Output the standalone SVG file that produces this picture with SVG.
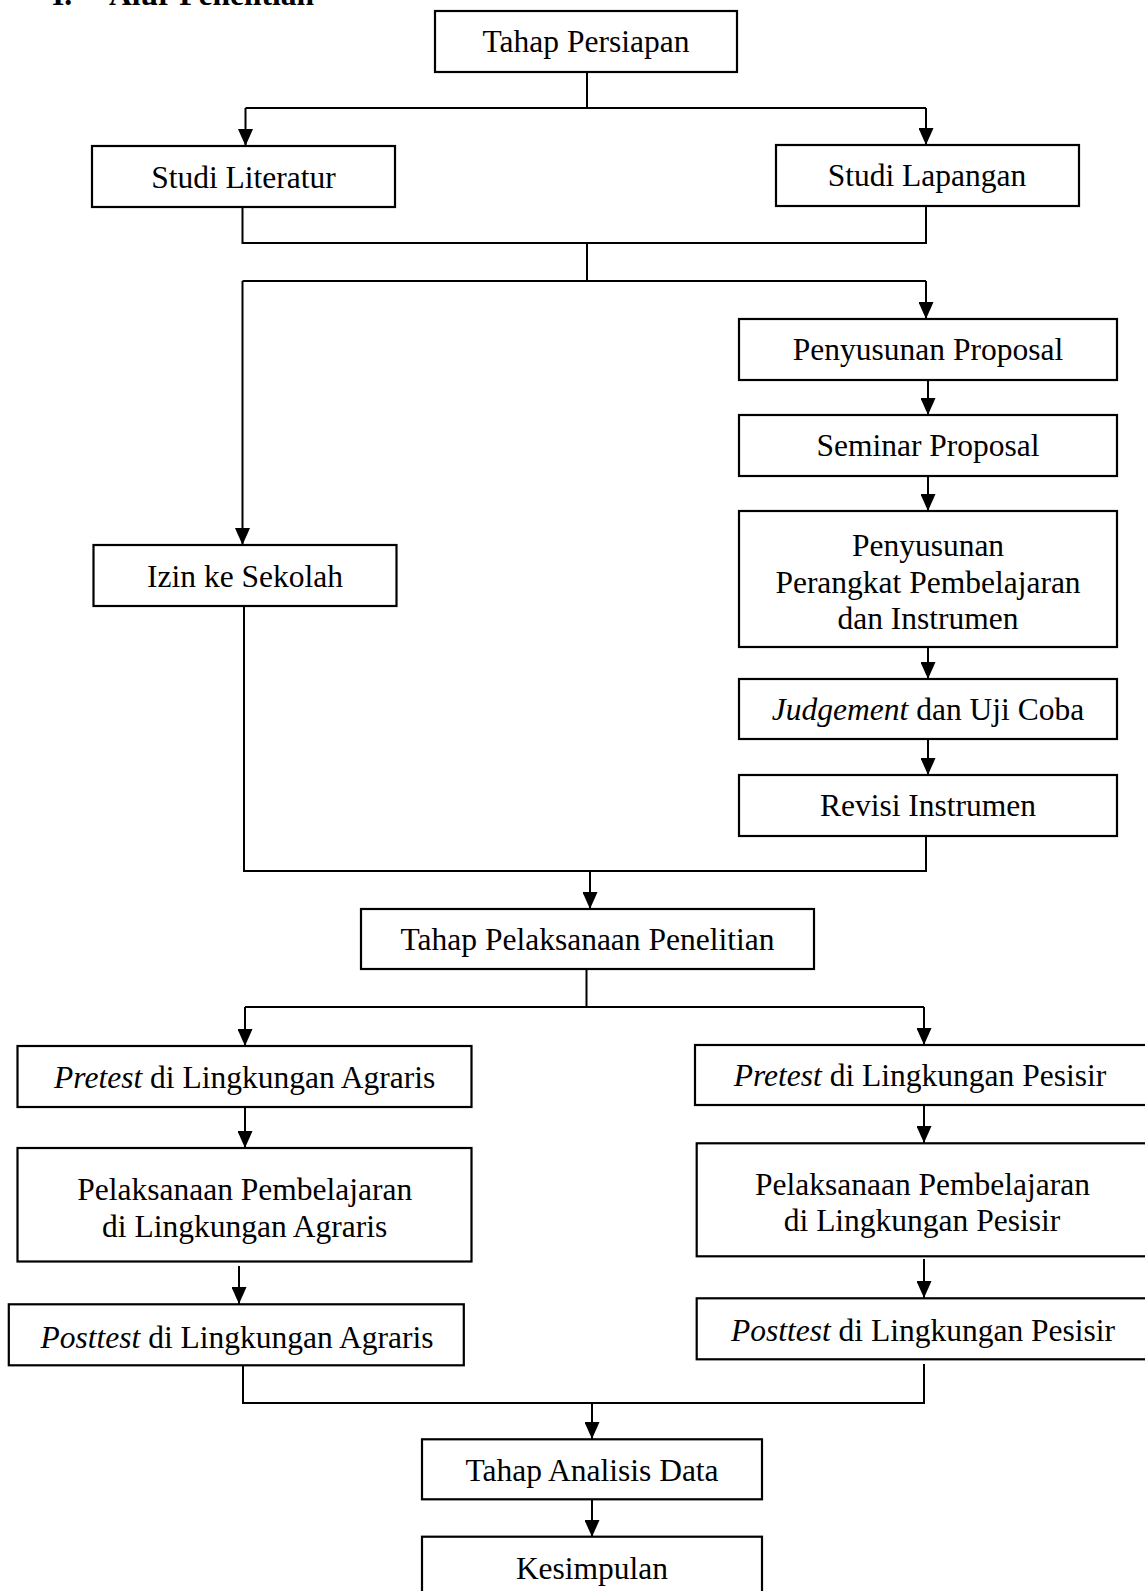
<svg xmlns="http://www.w3.org/2000/svg" width="1145" height="1591" viewBox="0 0 1145 1591">
<style>
  .box { fill: #ffffff; stroke: #000000; stroke-width: 2.2; }
  .t { font-family: "Liberation Serif", "Times New Roman", serif; font-size: 31.5px; fill: #000000; text-anchor: middle; }
  .i { font-style: italic; }
  .title { font-family: "Liberation Serif", "Times New Roman", serif; font-size: 31.5px; font-weight: bold; fill: #000000; }
  .c { fill: none; stroke: #000000; stroke-width: 2; }
  .a { fill: none; stroke: #000000; stroke-width: 2; marker-end: url(#arrow); }
</style>
<defs>
  <marker id="arrow" markerUnits="userSpaceOnUse" markerWidth="17" markerHeight="15" refX="17" refY="7.5" orient="auto">
    <path d="M0,0 L17,7.5 L0,15 z" fill="#000000"/>
  </marker>
</defs>
<rect width="1145" height="1591" fill="#ffffff"/>

<g id="title">
  <text class="title" x="52" y="5">I.</text>
  <text class="title" x="109" y="5">Alur Penelitian</text>
</g>

<g id="connectors">
  <path class="c" d="M587,72 V108 M245.5,108 H926"/>
  <path class="a" d="M245.5,108 V146"/>
  <path class="a" d="M926,108 V145"/>
  <path class="c" d="M242.5,207 V243 H926 V206 M587,243 V281 M242.5,281 H926"/>
  <path class="a" d="M242.5,281 V545"/>
  <path class="a" d="M926,281 V319"/>
  <path class="a" d="M928,380 V415"/>
  <path class="a" d="M928,476 V511"/>
  <path class="a" d="M928,647 V679"/>
  <path class="a" d="M928,739 V775"/>
  <path class="c" d="M244,599 V871 H926 V836"/>
  <path class="a" d="M590,871 V909"/>
  <path class="c" d="M586.5,969 V1007 M245,1007 H924"/>
  <path class="a" d="M245,1007 V1046"/>
  <path class="a" d="M924,1007 V1045"/>
  <path class="a" d="M245,1107 V1148"/>
  <path class="a" d="M924,1106 V1143"/>
  <path class="a" d="M239,1266 V1304"/>
  <path class="a" d="M924,1259 V1298"/>
  <path class="c" d="M243,1365 V1403 H924 V1364"/>
  <path class="a" d="M592,1403 V1439"/>
  <path class="a" d="M592,1500 V1537"/>
</g>

<g id="tahap-persiapan">
  <rect class="box" x="435" y="11" width="302" height="61"/>
  <text class="t" x="586" y="52">Tahap Persiapan</text>
</g>
<g id="studi-literatur">
  <rect class="box" x="92" y="146" width="303" height="61"/>
  <text class="t" x="243.5" y="187.5">Studi Literatur</text>
</g>
<g id="studi-lapangan">
  <rect class="box" x="776" y="145" width="303" height="61"/>
  <text class="t" x="927" y="185.5">Studi Lapangan</text>
</g>
<g id="penyusunan-proposal">
  <rect class="box" x="739" y="319" width="378" height="61"/>
  <text class="t" x="928" y="360">Penyusunan Proposal</text>
</g>
<g id="seminar-proposal">
  <rect class="box" x="739" y="415" width="378" height="61"/>
  <text class="t" x="928" y="456">Seminar Proposal</text>
</g>
<g id="penyusunan-perangkat">
  <rect class="box" x="739" y="511" width="378" height="136"/>
  <text class="t" x="928" y="556">Penyusunan</text>
  <text class="t" x="928" y="592.5">Perangkat Pembelajaran</text>
  <text class="t" x="928" y="629">dan Instrumen</text>
</g>
<g id="judgement">
  <rect class="box" x="739" y="679" width="378" height="60"/>
  <text class="t" x="928" y="720"><tspan class="i">Judgement</tspan> dan Uji Coba</text>
</g>
<g id="revisi-instrumen">
  <rect class="box" x="739" y="775" width="378" height="61"/>
  <text class="t" x="928" y="816">Revisi Instrumen</text>
</g>
<g id="izin-sekolah">
  <rect class="box" x="93.5" y="545" width="303" height="61"/>
  <text class="t" x="245" y="587">Izin ke Sekolah</text>
</g>
<g id="tahap-pelaksanaan">
  <rect class="box" x="361" y="909" width="453" height="60"/>
  <text class="t" x="587.5" y="950">Tahap Pelaksanaan Penelitian</text>
</g>
<g id="pretest-agraris">
  <rect class="box" x="17.5" y="1046" width="454" height="61"/>
  <text class="t" x="244.7" y="1087.5"><tspan class="i">Pretest</tspan> di Lingkungan Agraris</text>
</g>
<g id="pretest-pesisir">
  <rect class="box" x="695" y="1045" width="470" height="60"/>
  <text class="t" x="920" y="1086"><tspan class="i">Pretest</tspan> di Lingkungan Pesisir</text>
</g>
<g id="pelaksanaan-agraris">
  <rect class="box" x="17.5" y="1148" width="454" height="113.5"/>
  <text class="t" x="244.7" y="1199.5">Pelaksanaan Pembelajaran</text>
  <text class="t" x="244.7" y="1237">di Lingkungan Agraris</text>
</g>
<g id="pelaksanaan-pesisir">
  <rect class="box" x="696.7" y="1143.3" width="470" height="113"/>
  <text class="t" x="922.5" y="1194.5">Pelaksanaan Pembelajaran</text>
  <text class="t" x="922" y="1231">di Lingkungan Pesisir</text>
</g>
<g id="posttest-agraris">
  <rect class="box" x="8.8" y="1304.3" width="455" height="61"/>
  <text class="t" x="237" y="1347.5"><tspan class="i">Posttest</tspan> di Lingkungan Agraris</text>
</g>
<g id="posttest-pesisir">
  <rect class="box" x="696.7" y="1298.3" width="470" height="61"/>
  <text class="t" x="923" y="1341"><tspan class="i">Posttest</tspan> di Lingkungan Pesisir</text>
</g>
<g id="tahap-analisis">
  <rect class="box" x="422" y="1439.3" width="340" height="60"/>
  <text class="t" x="592" y="1481">Tahap Analisis Data</text>
</g>
<g id="kesimpulan">
  <rect class="box" x="422" y="1536.7" width="340" height="80"/>
  <text class="t" x="592" y="1578.5">Kesimpulan</text>
</g>
</svg>
